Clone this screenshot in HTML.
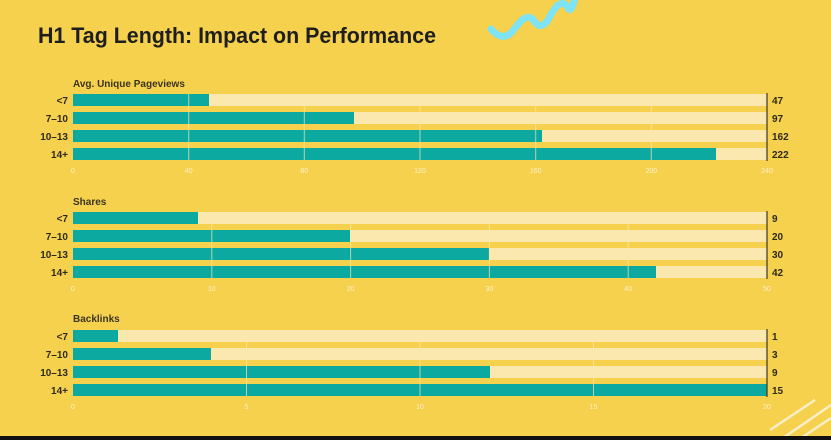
<!DOCTYPE html>
<html><head><meta charset="utf-8"><style>
html,body{margin:0;padding:0;background:#F5D14E;}
svg{display:block;font-family:"Liberation Sans",Arial,sans-serif;}
</style></head><body>
<svg width="831" height="440" viewBox="0 0 831 440" xmlns="http://www.w3.org/2000/svg">
<rect width="831" height="440" fill="#F5D14E"/>
<path d="M491 29 Q502 42 512 32 Q518 24 522 20 Q530 14 535 22 Q541 30 548 20 Q553 10 557 6 Q564 0 568 8 Q571 14 575 -2" fill="none" stroke="#7EE3F2" stroke-width="7" stroke-linecap="round"/>
<g stroke="#FBEFC8" stroke-width="2.5">
<line x1="770" y1="430" x2="815" y2="400"/><line x1="780" y1="440" x2="831" y2="405"/><line x1="798" y1="440" x2="831" y2="418"/>
</g>
<rect x="0" y="436" width="831" height="4" fill="#111"/>
<text x="38" y="43" font-size="22" font-weight="bold" fill="#1e1e1e" textLength="398" lengthAdjust="spacingAndGlyphs">H1 Tag Length: Impact on Performance</text>

<g font-size="10" font-weight="bold" fill="#3a3520">
<text x="73" y="87">Avg. Unique Pageviews</text>
<text x="73" y="205">Shares</text>
<text x="73" y="322">Backlinks</text>
</g>

<g fill="#FBE8AE">
<rect x="73" y="94" width="694" height="12"/><rect x="73" y="112" width="694" height="12"/><rect x="73" y="130" width="694" height="12"/><rect x="73" y="148" width="694" height="12"/>
<rect x="73" y="212" width="694" height="12"/><rect x="73" y="230" width="694" height="12"/><rect x="73" y="248" width="694" height="12"/><rect x="73" y="266" width="694" height="12"/>
<rect x="73" y="330" width="694" height="12"/><rect x="73" y="348" width="694" height="12"/><rect x="73" y="366" width="694" height="12"/><rect x="73" y="384" width="694" height="12"/>
</g>
<g fill="#0BA9A0">
<rect x="73" y="94" width="136" height="12"/><rect x="73" y="112" width="281" height="12"/><rect x="73" y="130" width="469" height="12"/><rect x="73" y="148" width="643" height="12"/>
<rect x="73" y="212" width="125" height="12"/><rect x="73" y="230" width="277" height="12"/><rect x="73" y="248" width="416" height="12"/><rect x="73" y="266" width="583" height="12"/>
<rect x="73" y="330" width="45" height="12"/><rect x="73" y="348" width="138" height="12"/><rect x="73" y="366" width="417" height="12"/><rect x="73" y="384" width="694" height="12"/>
</g>
<g stroke="#FBE8AE" stroke-width="1" opacity="0.7">
<line x1="188.7" y1="94" x2="188.7" y2="160"/><line x1="304.3" y1="94" x2="304.3" y2="160"/><line x1="420" y1="94" x2="420" y2="160"/><line x1="535.7" y1="94" x2="535.7" y2="160"/><line x1="651.3" y1="94" x2="651.3" y2="160"/>
<line x1="211.8" y1="212" x2="211.8" y2="278"/><line x1="350.6" y1="212" x2="350.6" y2="278"/><line x1="489.4" y1="212" x2="489.4" y2="278"/><line x1="628.2" y1="212" x2="628.2" y2="278"/>
<line x1="246.5" y1="330" x2="246.5" y2="396"/><line x1="420" y1="330" x2="420" y2="396"/><line x1="593.5" y1="330" x2="593.5" y2="396"/>
</g>
<g stroke="#3a3520" stroke-width="1.2">
<line x1="767" y1="93" x2="767" y2="161"/><line x1="767" y1="211" x2="767" y2="279"/><line x1="767" y1="329" x2="767" y2="397"/>
</g>
<g font-size="10" font-weight="bold" fill="#2e2a1a" text-anchor="end">
<text x="68" y="104">&lt;7</text><text x="68" y="122">7–10</text><text x="68" y="140">10–13</text><text x="68" y="158">14+</text>
<text x="68" y="222">&lt;7</text><text x="68" y="240">7–10</text><text x="68" y="258">10–13</text><text x="68" y="276">14+</text>
<text x="68" y="340">&lt;7</text><text x="68" y="358">7–10</text><text x="68" y="376">10–13</text><text x="68" y="394">14+</text>
</g>
<g font-size="10" font-weight="bold" fill="#2e2a1a">
<text x="772" y="104">47</text><text x="772" y="122">97</text><text x="772" y="140">162</text><text x="772" y="158">222</text>
<text x="772" y="222">9</text><text x="772" y="240">20</text><text x="772" y="258">30</text><text x="772" y="276">42</text>
<text x="772" y="340">1</text><text x="772" y="358">3</text><text x="772" y="376">9</text><text x="772" y="394">15</text>
</g>
<g font-size="7" fill="#FBF0CC" text-anchor="middle">
<text x="73" y="173">0</text><text x="188.7" y="173">40</text><text x="304.3" y="173">80</text><text x="420" y="173">120</text><text x="535.7" y="173">160</text><text x="651.3" y="173">200</text><text x="767" y="173">240</text>
<text x="73" y="291">0</text><text x="211.8" y="291">10</text><text x="350.6" y="291">20</text><text x="489.4" y="291">30</text><text x="628.2" y="291">40</text><text x="767" y="291">50</text>
<text x="73" y="409">0</text><text x="246.5" y="409">5</text><text x="420" y="409">10</text><text x="593.5" y="409">15</text><text x="767" y="409">20</text>
</g>
</svg>
</body></html>
